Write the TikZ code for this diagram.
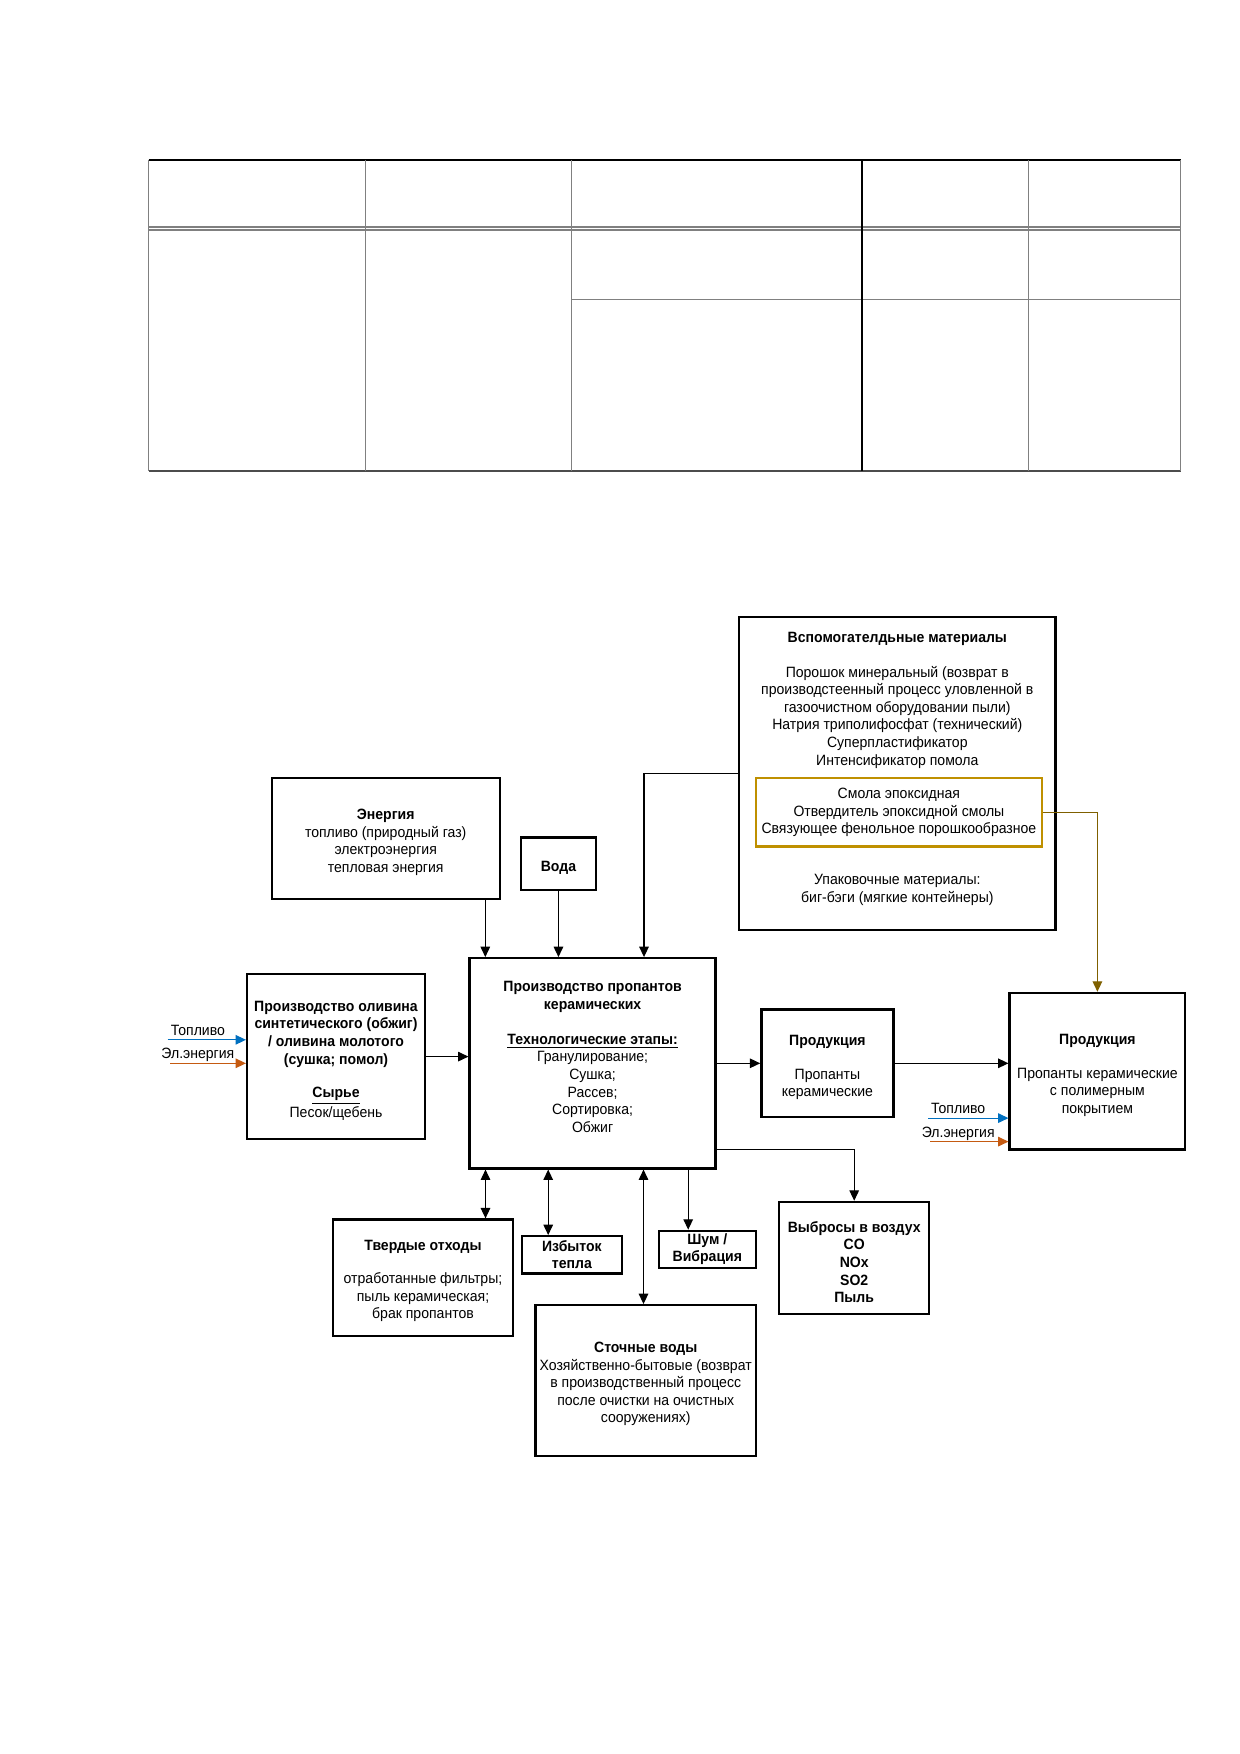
\documentclass[tikz,border=0pt]{standalone}
\usepackage{fontspec}
\setmainfont{Liberation Sans}[FakeStretch=0.94]
\usetikzlibrary{arrows.meta,fit}
\definecolor{fuelblue}{RGB}{0,112,192}
\definecolor{elorange}{RGB}{197,90,17}
\definecolor{goldbox}{RGB}{191,144,0}
\definecolor{goldline}{RGB}{127,96,0}
\definecolor{tabgrey}{RGB}{128,128,128}
\begin{document}
\begin{tikzpicture}[x=0.16935mm,y=-0.16935mm,
  box/.style={draw, line width=1.1pt, inner sep=0pt},
  goldframe/.style={draw=goldbox, line width=1.1pt, inner sep=0pt},
  txt/.style={align=center, font=\fontsize{7.2}{8.5}\selectfont, inner sep=0pt, yshift=-1.5pt},
  lbl/.style={font=\fontsize{7.2}{8.5}\selectfont, inner sep=0pt, yshift=-1.5pt},
  arr/.style={line width=0.55pt, -{Triangle[length=5pt,width=4.6pt]}},
  darr/.style={line width=0.55pt, {Triangle[length=5pt,width=4.6pt]}-{Triangle[length=5pt,width=4.6pt]}},
  goldarr/.style={arr, draw=goldline, -{Triangle[length=5pt,width=4.6pt,fill=goldline]}},
  bluearr/.style={line width=0.55pt, draw=fuelblue, -{Triangle[length=5pt,width=4.6pt,fill=fuelblue]}},
  orangearr/.style={line width=0.55pt, draw=elorange, -{Triangle[length=5pt,width=4.6pt,fill=elorange]}},
  tabline/.style={draw=tabgrey, line width=0.6pt}
]
\fill[white] (0,0) rectangle (1240,1754);
\useasboundingbox (0,0) rectangle (1240,1754);

% ---------------- table ----------------
\draw[line width=0.7pt] (148.7,159.9) -- (1180.7,159.9);
\draw[tabline, line width=0.8pt] (148.7,226.8) -- (1180.7,226.8);
\draw[tabline, line width=0.8pt] (148.7,229.8) -- (1180.7,229.8);
\draw[tabline] (571.4,299.7) -- (1180.7,299.7);
\draw[draw=black!70, line width=0.8pt] (148.7,470.7) -- (1180.7,470.7);
\draw[tabline] (148.7,159.9) -- (148.7,470.7);
\draw[tabline] (365.6,159.9) -- (365.6,470.7);
\draw[tabline] (571.4,159.9) -- (571.4,470.7);
\draw[line width=0.6pt] (862.1,159.9) -- (862.1,470.7);
\draw[tabline] (1028.7,159.9) -- (1028.7,470.7);
\draw[tabline] (1180.7,159.9) -- (1180.7,470.7);

% ---------------- boxes ----------------
\node[box, fit={(739.1,617.2) (1055.5,930.3)}] (aux) {};
\node[goldframe, fit={(755.8,778.2) (1042.1,846.4)}] (gold) {};
\node[box, fit={(271.7,778.2) (499.8,899.0)}] (energy) {};
\node[box, fit={(521.0,837.5) (595.9,890.0)}] (water) {};
\node[box, fit={(469.6,958.2) (715.6,1168.4)}] (main) {};
\node[box, fit={(247.1,973.9) (424.9,1139.3)}] (olivine) {};
\node[box, fit={(761.4,1009.6) (893.4,1117.0)}] (prod1) {};
\node[box, fit={(1009.6,992.9) (1185.2,1149.4)}] (prod2) {};
\node[box, fit={(779.3,1201.9) (929.1,1313.8)}] (emis) {};
\node[box, fit={(332.8,1219.5) (513.3,1335.8)}] (solid) {};
\node[box, fit={(521.8,1236.2) (622.0,1273.6)}] (heat) {};
\node[box, fit={(658.7,1230.8) (756.0,1267.8)}] (noise) {};
\node[box, fit={(535.6,1305.2) (755.8,1455.8)}] (sewage) {};

% ---------------- texts ----------------
\node[txt] (auxT1) at (897.3,636.2) {\textbf{Вспомогателдьные материалы}};
\node[txt] (auxT2) at (897.3,714.0) {Порошок минеральный (возврат в\\производстеенный процесс уловленной в\\газоочистном оборудовании пыли)\\Натрия триполифосфат  (технический)\\Суперпластификатор\\Интенсификатор помола};
\node[txt] (goldT) at (898.9,809.5) {Смола эпоксидная\\Отвердитель эпоксидной смолы\\Связующее фенольное  порошкообразное};
\node[txt] (auxT3) at (897.3,886.6) {Упаковочные материалы:\\биг-бэги (мягкие контейнеры)};

\node[txt] (energyT) at (385.7,839.2) {\textbf{Энергия}\\топливо (природный газ)\\электроэнергия\\тепловая энергия};
\node[txt] (waterT) at (558.5,864.3) {\textbf{Вода}};

\node[txt] (mainT1) at (592.6,994.0) {\textbf{Производство  пропантов}\\\textbf{керамических}};
\node[txt] (mainT2) at (592.6,1080.1) {\underline{\textbf{Технологические этапы:}}\\Гранулирование;\\Сушка;\\Рассев;\\Сортировка;\\Обжиг};

\node[txt] (olivT1) at (336.0,1030.9) {\textbf{Производство оливина}\\\textbf{синтетического (обжиг)}\\\textbf{/ оливина молотого}\\\textbf{(сушка;  помол)}};
\node[txt] (olivT2) at (336.0,1100.8) {\underline{\textbf{Сырье}}\\Песок/щебень};

\node[txt] (prod1T1) at (827.4,1038.7) {\textbf{Продукция}};
\node[txt] (prod1T2) at (827.4,1081.2) {Пропанты\\керамические};
\node[txt] (prod2T1) at (1097.4,1037.6) {\textbf{Продукция}};
\node[txt] (prod2T2) at (1097.4,1089.0) {Пропанты керамические\\с полимерным\\покрытием};

\node[txt] (emisT) at (854.2,1259.0) {\textbf{Выбросы в воздух}\\\textbf{CO}\\\textbf{NOx}\\\textbf{SO2}\\\textbf{Пыль}};
\node[txt] (solidT1) at (423.0,1243.3) {\textbf{Твердые отходы}};
\node[txt] (solidT2) at (423.0,1294.2) {отработанные фильтры;\\пыль керамическая;\\брак пропантов};
\node[txt, font=\fontsize{7.2}{8.2}\selectfont] (heatT) at (571.9,1251.5) {\textbf{Избыток}\\\textbf{тепла}};
\node[txt, font=\fontsize{7.2}{8.2}\selectfont] (noiseT) at (707.3,1246.0) {\textbf{Шум /}\\\textbf{Вибрация}};
\node[txt] (sewT) at (645.7,1380.9) {\textbf{Сточные воды}\\Хозяйственно-бытовые (возврат\\в производственный процесс\\после очистки на очистных\\сооружениях)};

\node[lbl] (fuelL1) at (197.9,1027.5) {Топливо};
\node[lbl] (elL1) at (197.9,1052.1) {Эл.энергия};
\node[lbl] (fuelL2) at (958.2,1105.8) {Топливо};
\node[lbl] (elL2) at (958.2,1130.4) {Эл.энергия};

% ---------------- connectors ----------------
\coordinate (fuelIn1) at (167.7,1039.8);
\coordinate (elIn1) at (170.0,1063.3);
\coordinate (fuelIn2) at (928.0,1118.1);
\coordinate (elIn2) at (930.0,1141.6);
\draw[bluearr] (fuelIn1) -- (fuelIn1 -| olivine.west);
\draw[orangearr] (elIn1) -- (elIn1 -| olivine.west);
\draw[bluearr] (fuelIn2) -- (fuelIn2 -| prod2.west);
\draw[orangearr] (elIn2) -- (elIn2 -| prod2.west);

\draw[arr] (485.3,0 |- energy.south) -- (485.3,0 |- main.north);
\draw[arr] (water.south) -- (water.south |- main.north);
\draw[arr] (aux.west |- 0,773.7) -| (644.0,0 |- main.north);
\draw[goldarr] (gold.east) -| (prod2.north);
\draw[arr] (olivine.east) -- (olivine.east -| main.west);
\draw[arr] (main.east) -- (main.east -| prod1.west);
\draw[arr] (prod1.east) -- (prod1.east -| prod2.west);
\draw[arr] (main.east |- 0,1149.4) -| (emis.north);

\draw[darr] (485.5,0 |- main.south) -- (485.5,0 |- solid.north);
\draw[darr] (548.2,0 |- main.south) -- (548.2,0 |- heat.north);
\draw[darr] (643.5,0 |- main.south) -- (643.5,0 |- sewage.north);
\draw[arr] (688.2,0 |- main.south) -- (688.2,0 |- noise.north);
\end{tikzpicture}
\end{document}
